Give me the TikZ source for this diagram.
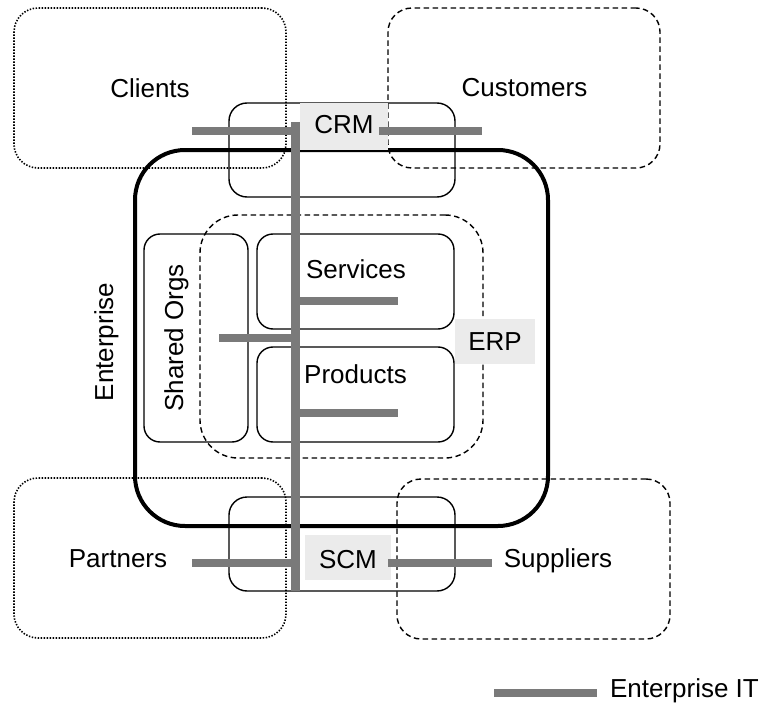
\documentclass[tikz,border=0pt]{standalone}
\usepackage{fontspec}
\setmainfont{Liberation Sans}
\definecolor{itgray}{RGB}{122,122,122}
\definecolor{tagfill}{RGB}{235,235,235}
\begin{document}
\begin{tikzpicture}[x=1pt,y=-1pt,
  every node/.style={inner sep=0pt,outer sep=0pt},
  txt/.style={font=\fontsize{26}{30}\selectfont,anchor=base},
  area/.style={draw,line width=1.4pt,rounded corners=#1},
  dotline/.style={line width=1.6pt,dash pattern=on 1.4pt off 1.6pt},
  dashline/.style={dash pattern=on 5.5pt off 3.5pt},
  tag/.style={fill=tagfill},
  itbus/.style={draw=itgray,line width=8pt,line cap=butt},
  ittrunk/.style={draw=itgray,line width=9pt,line cap=butt}]
\useasboundingbox (0,0) rectangle (764,709);

% surrounding parties
\node[area=24,dotline,minimum width=272pt,minimum height=160pt] (clients) at (150,88) {};
\node[area=24,dashline,minimum width=272pt,minimum height=160pt] (customers) at (524,88) {};
\node[area=24,dotline,minimum width=272pt,minimum height=160pt] (partners) at (150,558) {};
\node[area=24,dashline,minimum width=273pt,minimum height=160pt] (suppliers) at (533.5,559) {};

% enterprise boundary
\node[draw,line width=4pt,rounded corners=50,minimum width=413pt,minimum height=376pt] (enterprise) at (341.5,338) {};

% system zones
\node[area=18,minimum width=226pt,minimum height=94pt] (crm) at (342,150) {};
\node[area=18,minimum width=226pt,minimum height=94pt] (scm) at (342,544) {};
\node[area=38,dashline,minimum width=283pt,minimum height=243pt] (erp) at (341.5,336.5) {};

% internal units
\node[area=16,minimum width=104pt,minimum height=208pt] (shared) at (196,338) {};
\node[area=16,minimum width=197pt,minimum height=95pt] (services) at (355.5,281.5) {};
\node[area=16,minimum width=197pt,minimum height=95pt] (products) at (355.5,394.5) {};

% system tags
\node[tag,minimum width=88pt,minimum height=47pt] (crmtag) at (344,126.5) {};
\node[tag,minimum width=80pt,minimum height=45pt] (erptag) at (495,341.5) {};
\node[tag,minimum width=86pt,minimum height=45pt] (scmtag) at (348,557.5) {};

% texts
\node[txt] (tclients) at (150,98) {Clients};
\node[txt] (tcustomers) at (524.5,97) {Customers};
\node[txt] (tpartners) at (118,567) {Partners};
\node[txt] (tsuppliers) at (558,567) {Suppliers};
\node[txt] (tcrm) at (344,134) {CRM};
\node[txt] (terp) at (495,350) {ERP};
\node[txt] (tscm) at (348,568) {SCM};
\node[txt] (tservices) at (356,278) {Services};
\node[txt] (tproducts) at (355.5,383) {Products};
\node[txt,rotate=90] (tenterprise) at (113,342) {Enterprise};
\node[txt,rotate=90] (tshared) at (183,338) {Shared Orgs};

% enterprise IT backbone
\coordinate (trunktop) at (295,122);
\coordinate (trunkbot) at (295,591);
\coordinate (jcrm) at (295,131);
\coordinate (jserv) at (295,301);
\coordinate (jshared) at (295,338);
\coordinate (jprod) at (295,413);
\coordinate (jscm) at (295,563);
\coordinate (crmL) at (192,131);
\coordinate (crmRa) at (379,131);
\coordinate (crmRb) at (482,131);
\coordinate (servE) at (398,301);
\coordinate (sharedW) at (219,338);
\coordinate (prodE) at (398,413);
\coordinate (scmL) at (192,563);
\coordinate (scmRa) at (388,563);
\coordinate (scmRb) at (492,563);

\path[itbus] (crmL) -- (jcrm);
\path[itbus] (crmRa) -- (crmRb);
\path[itbus] (jserv) -- (servE);
\path[itbus] (sharedW) -- (jshared);
\path[itbus] (jprod) -- (prodE);
\path[itbus] (scmL) -- (jscm);
\path[itbus] (scmRa) -- (scmRb);
\path[ittrunk] (trunktop) -- (trunkbot);

% legend
\coordinate (legA) at (494,693);
\coordinate (legB) at (597,693);
\path[itbus] (legA) -- (legB);
\node[txt,anchor=base west] (tlegend) at (610,697) {Enterprise IT};
\end{tikzpicture}
\end{document}
